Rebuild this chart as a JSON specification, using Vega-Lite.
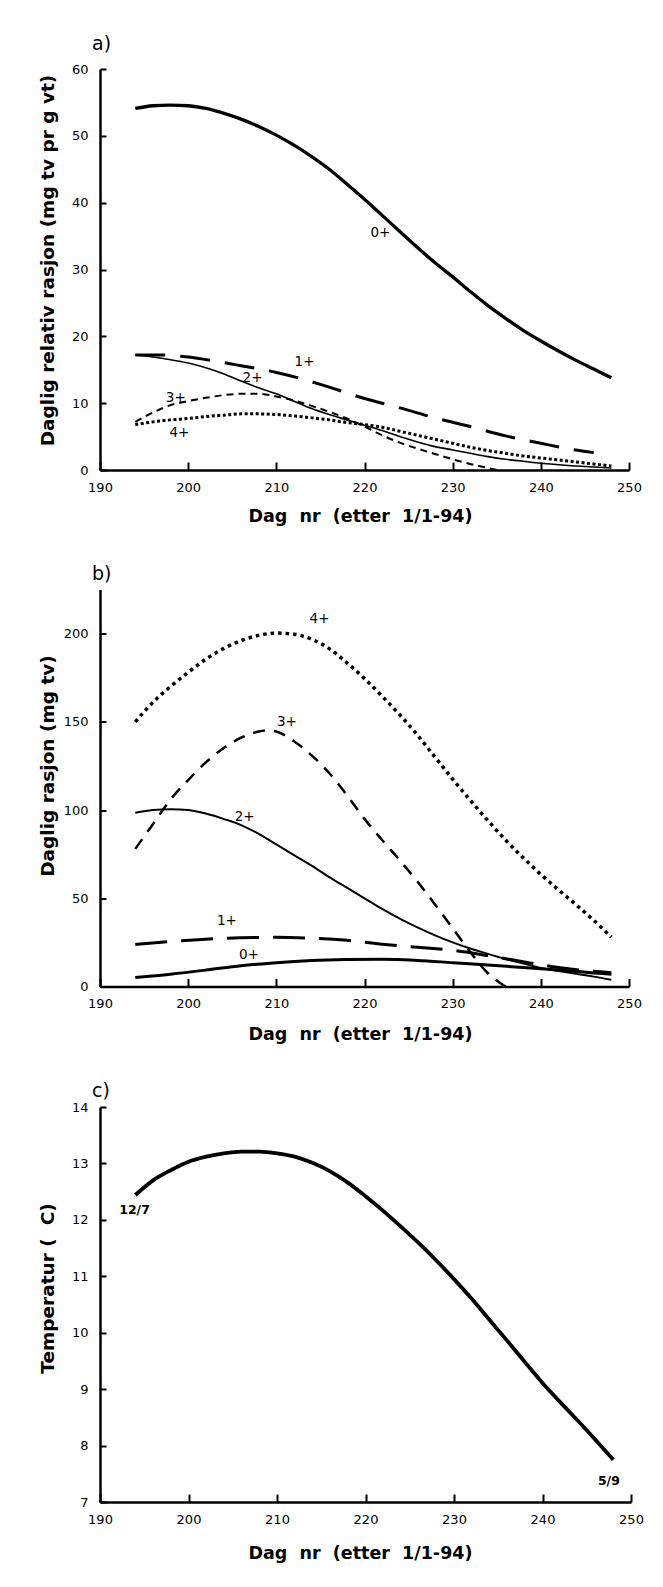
{
  "$schema": "https://vega.github.io/schema/vega-lite/v6.json",
  "background": "white",
  "padding": {"left": 37, "top": 35, "right": 10, "bottom": 5},
  "spacing": 39.5,
  "config": {
    "view": {"stroke": null},
    "axis": {"grid": false, "domainColor": "black", "domainWidth": 2.5, "tickColor": "black", "tickWidth": 2, "labelFont": "DejaVu Sans", "labelFontSize": 13, "labelColor": "black", "titleFont": "DejaVu Sans", "titleFontSize": 18.5, "titleFontWeight": "bold", "titleColor": "black", "labelFlush": false, "labelOverlap": false},
    "title": {"anchor": "start", "frame": "group", "font": "DejaVu Sans", "fontSize": 19, "fontWeight": "normal", "color": "black", "dx": -8},
    "text": {"font": "DejaVu Sans", "fontSize": 13.5, "color": "black", "align": "center", "baseline": "middle"}
  },
  "datasets": {
    "a": [
      {"s": "0+", "day": 194, "v": 54.1}, {"s": "0+", "day": 196, "v": 54.5}, {"s": "0+", "day": 198, "v": 54.6}, {"s": "0+", "day": 200, "v": 54.5}, {"s": "0+", "day": 202, "v": 54.1}, {"s": "0+", "day": 204, "v": 53.4}, {"s": "0+", "day": 206, "v": 52.5}, {"s": "0+", "day": 208, "v": 51.4}, {"s": "0+", "day": 210, "v": 50.1}, {"s": "0+", "day": 212, "v": 48.6}, {"s": "0+", "day": 214, "v": 46.9}, {"s": "0+", "day": 216, "v": 45.0}, {"s": "0+", "day": 218, "v": 42.8}, {"s": "0+", "day": 220, "v": 40.5}, {"s": "0+", "day": 222, "v": 38.1}, {"s": "0+", "day": 224, "v": 35.7}, {"s": "0+", "day": 226, "v": 33.3}, {"s": "0+", "day": 228, "v": 31.0}, {"s": "0+", "day": 230, "v": 28.9}, {"s": "0+", "day": 232, "v": 26.7}, {"s": "0+", "day": 234, "v": 24.6}, {"s": "0+", "day": 236, "v": 22.7}, {"s": "0+", "day": 238, "v": 20.9}, {"s": "0+", "day": 240, "v": 19.3}, {"s": "0+", "day": 242, "v": 17.8}, {"s": "0+", "day": 244, "v": 16.4}, {"s": "0+", "day": 246, "v": 15.1}, {"s": "0+", "day": 248, "v": 13.8},
      {"s": "1+", "day": 194, "v": 17.2}, {"s": "1+", "day": 197, "v": 17.2}, {"s": "1+", "day": 200, "v": 16.9}, {"s": "1+", "day": 203, "v": 16.3}, {"s": "1+", "day": 206, "v": 15.6}, {"s": "1+", "day": 210, "v": 14.6}, {"s": "1+", "day": 213, "v": 13.6}, {"s": "1+", "day": 216, "v": 12.4}, {"s": "1+", "day": 220, "v": 10.7}, {"s": "1+", "day": 224, "v": 9.3}, {"s": "1+", "day": 228, "v": 7.8}, {"s": "1+", "day": 232, "v": 6.5}, {"s": "1+", "day": 236, "v": 5.1}, {"s": "1+", "day": 240, "v": 4.0}, {"s": "1+", "day": 243, "v": 3.2}, {"s": "1+", "day": 246, "v": 2.6},
      {"s": "2+", "day": 194, "v": 17.2}, {"s": "2+", "day": 196, "v": 16.9}, {"s": "2+", "day": 198, "v": 16.5}, {"s": "2+", "day": 200, "v": 16.0}, {"s": "2+", "day": 202, "v": 15.3}, {"s": "2+", "day": 204, "v": 14.4}, {"s": "2+", "day": 206, "v": 13.3}, {"s": "2+", "day": 208, "v": 12.3}, {"s": "2+", "day": 210, "v": 11.4}, {"s": "2+", "day": 212, "v": 10.3}, {"s": "2+", "day": 214, "v": 9.2}, {"s": "2+", "day": 216, "v": 8.3}, {"s": "2+", "day": 218, "v": 7.5}, {"s": "2+", "day": 220, "v": 6.7}, {"s": "2+", "day": 222, "v": 5.9}, {"s": "2+", "day": 224, "v": 5.0}, {"s": "2+", "day": 226, "v": 4.2}, {"s": "2+", "day": 228, "v": 3.5}, {"s": "2+", "day": 230, "v": 3.0}, {"s": "2+", "day": 232, "v": 2.5}, {"s": "2+", "day": 234, "v": 2.0}, {"s": "2+", "day": 236, "v": 1.6}, {"s": "2+", "day": 238, "v": 1.3}, {"s": "2+", "day": 240, "v": 1.0}, {"s": "2+", "day": 244, "v": 0.6}, {"s": "2+", "day": 248, "v": 0.3},
      {"s": "3+", "day": 194, "v": 7.2}, {"s": "3+", "day": 196, "v": 8.6}, {"s": "3+", "day": 198, "v": 9.7}, {"s": "3+", "day": 200, "v": 10.3}, {"s": "3+", "day": 202, "v": 10.8}, {"s": "3+", "day": 204, "v": 11.2}, {"s": "3+", "day": 206, "v": 11.4}, {"s": "3+", "day": 208, "v": 11.4}, {"s": "3+", "day": 210, "v": 11.0}, {"s": "3+", "day": 212, "v": 10.4}, {"s": "3+", "day": 214, "v": 9.6}, {"s": "3+", "day": 216, "v": 8.7}, {"s": "3+", "day": 218, "v": 7.7}, {"s": "3+", "day": 220, "v": 6.5}, {"s": "3+", "day": 222, "v": 5.2}, {"s": "3+", "day": 224, "v": 4.1}, {"s": "3+", "day": 226, "v": 3.2}, {"s": "3+", "day": 228, "v": 2.4}, {"s": "3+", "day": 230, "v": 1.6}, {"s": "3+", "day": 232, "v": 0.9}, {"s": "3+", "day": 234, "v": 0.3}, {"s": "3+", "day": 235, "v": 0.0},
      {"s": "4+", "day": 194, "v": 6.8}, {"s": "4+", "day": 196, "v": 7.2}, {"s": "4+", "day": 198, "v": 7.5}, {"s": "4+", "day": 200, "v": 7.7}, {"s": "4+", "day": 202, "v": 8.0}, {"s": "4+", "day": 204, "v": 8.2}, {"s": "4+", "day": 206, "v": 8.4}, {"s": "4+", "day": 208, "v": 8.4}, {"s": "4+", "day": 210, "v": 8.3}, {"s": "4+", "day": 212, "v": 8.1}, {"s": "4+", "day": 214, "v": 7.8}, {"s": "4+", "day": 216, "v": 7.5}, {"s": "4+", "day": 218, "v": 7.1}, {"s": "4+", "day": 220, "v": 6.8}, {"s": "4+", "day": 222, "v": 6.4}, {"s": "4+", "day": 224, "v": 5.8}, {"s": "4+", "day": 226, "v": 5.2}, {"s": "4+", "day": 228, "v": 4.6}, {"s": "4+", "day": 230, "v": 4.0}, {"s": "4+", "day": 232, "v": 3.4}, {"s": "4+", "day": 234, "v": 2.9}, {"s": "4+", "day": 236, "v": 2.5}, {"s": "4+", "day": 238, "v": 2.1}, {"s": "4+", "day": 240, "v": 1.8}, {"s": "4+", "day": 242, "v": 1.5}, {"s": "4+", "day": 244, "v": 1.2}, {"s": "4+", "day": 246, "v": 0.9}, {"s": "4+", "day": 248, "v": 0.6}
    ],
    "aLabels": [
      {"t": "0+", "day": 221.8, "v": 35.4}, {"t": "1+", "day": 213.2, "v": 16.1}, {"t": "2+", "day": 207.3, "v": 13.8}, {"t": "3+", "day": 198.6, "v": 10.7}, {"t": "4+", "day": 199.0, "v": 5.6}
    ],
    "b": [
      {"s": "0+", "day": 194, "v": 5.1}, {"s": "0+", "day": 198, "v": 7.0}, {"s": "0+", "day": 202, "v": 9.3}, {"s": "0+", "day": 206, "v": 11.8}, {"s": "0+", "day": 210, "v": 13.5}, {"s": "0+", "day": 214, "v": 14.7}, {"s": "0+", "day": 218, "v": 15.3}, {"s": "0+", "day": 222, "v": 15.5}, {"s": "0+", "day": 226, "v": 14.8}, {"s": "0+", "day": 230, "v": 13.5}, {"s": "0+", "day": 234, "v": 12.2}, {"s": "0+", "day": 238, "v": 10.8}, {"s": "0+", "day": 242, "v": 9.3}, {"s": "0+", "day": 246, "v": 7.7}, {"s": "0+", "day": 248, "v": 6.9},
      {"s": "1+", "day": 194, "v": 23.8}, {"s": "1+", "day": 198, "v": 25.5}, {"s": "1+", "day": 202, "v": 26.8}, {"s": "1+", "day": 206, "v": 27.6}, {"s": "1+", "day": 210, "v": 27.9}, {"s": "1+", "day": 214, "v": 27.4}, {"s": "1+", "day": 218, "v": 26.2}, {"s": "1+", "day": 222, "v": 24.0}, {"s": "1+", "day": 226, "v": 22.2}, {"s": "1+", "day": 230, "v": 20.5}, {"s": "1+", "day": 234, "v": 17.5}, {"s": "1+", "day": 238, "v": 14.0}, {"s": "1+", "day": 242, "v": 10.8}, {"s": "1+", "day": 246, "v": 8.6}, {"s": "1+", "day": 248, "v": 7.8},
      {"s": "2+", "day": 194, "v": 98.5}, {"s": "2+", "day": 196, "v": 100.0}, {"s": "2+", "day": 198, "v": 100.5}, {"s": "2+", "day": 200, "v": 100.0}, {"s": "2+", "day": 202, "v": 98.0}, {"s": "2+", "day": 204, "v": 95.0}, {"s": "2+", "day": 206, "v": 91.5}, {"s": "2+", "day": 208, "v": 86.5}, {"s": "2+", "day": 210, "v": 80.5}, {"s": "2+", "day": 212, "v": 74.5}, {"s": "2+", "day": 214, "v": 68.5}, {"s": "2+", "day": 216, "v": 62.0}, {"s": "2+", "day": 218, "v": 56.0}, {"s": "2+", "day": 220, "v": 50.0}, {"s": "2+", "day": 222, "v": 44.0}, {"s": "2+", "day": 224, "v": 38.5}, {"s": "2+", "day": 226, "v": 33.5}, {"s": "2+", "day": 228, "v": 29.0}, {"s": "2+", "day": 230, "v": 25.0}, {"s": "2+", "day": 232, "v": 21.5}, {"s": "2+", "day": 234, "v": 18.5}, {"s": "2+", "day": 236, "v": 15.5}, {"s": "2+", "day": 238, "v": 13.0}, {"s": "2+", "day": 240, "v": 10.5}, {"s": "2+", "day": 242, "v": 8.8}, {"s": "2+", "day": 244, "v": 7.2}, {"s": "2+", "day": 246, "v": 5.6}, {"s": "2+", "day": 248, "v": 3.8},
      {"s": "3+", "day": 194, "v": 78}, {"s": "3+", "day": 196, "v": 92}, {"s": "3+", "day": 198, "v": 106}, {"s": "3+", "day": 200, "v": 117}, {"s": "3+", "day": 202, "v": 127}, {"s": "3+", "day": 204, "v": 135}, {"s": "3+", "day": 206, "v": 141}, {"s": "3+", "day": 208, "v": 144.5}, {"s": "3+", "day": 209, "v": 145.2}, {"s": "3+", "day": 210, "v": 144.5}, {"s": "3+", "day": 212, "v": 139}, {"s": "3+", "day": 214, "v": 131}, {"s": "3+", "day": 216, "v": 121}, {"s": "3+", "day": 218, "v": 108.5}, {"s": "3+", "day": 220, "v": 95}, {"s": "3+", "day": 222, "v": 83}, {"s": "3+", "day": 224, "v": 71.5}, {"s": "3+", "day": 226, "v": 59.5}, {"s": "3+", "day": 228, "v": 46.5}, {"s": "3+", "day": 230, "v": 33}, {"s": "3+", "day": 232, "v": 19.5}, {"s": "3+", "day": 234, "v": 7.5}, {"s": "3+", "day": 236, "v": 0},
      {"s": "4+", "day": 194, "v": 150}, {"s": "4+", "day": 196, "v": 161}, {"s": "4+", "day": 198, "v": 170}, {"s": "4+", "day": 200, "v": 178}, {"s": "4+", "day": 202, "v": 185.5}, {"s": "4+", "day": 204, "v": 191.5}, {"s": "4+", "day": 206, "v": 196}, {"s": "4+", "day": 208, "v": 199}, {"s": "4+", "day": 210, "v": 200.3}, {"s": "4+", "day": 212, "v": 199.7}, {"s": "4+", "day": 214, "v": 196.8}, {"s": "4+", "day": 216, "v": 191.5}, {"s": "4+", "day": 218, "v": 183.5}, {"s": "4+", "day": 220, "v": 174.5}, {"s": "4+", "day": 222, "v": 164.5}, {"s": "4+", "day": 224, "v": 154}, {"s": "4+", "day": 226, "v": 142.5}, {"s": "4+", "day": 228, "v": 130}, {"s": "4+", "day": 230, "v": 117.5}, {"s": "4+", "day": 232, "v": 105.5}, {"s": "4+", "day": 234, "v": 94}, {"s": "4+", "day": 236, "v": 83}, {"s": "4+", "day": 238, "v": 73}, {"s": "4+", "day": 240, "v": 63.5}, {"s": "4+", "day": 242, "v": 54.8}, {"s": "4+", "day": 244, "v": 46.3}, {"s": "4+", "day": 246, "v": 37.5}, {"s": "4+", "day": 248, "v": 28}
    ],
    "bLabels": [
      {"t": "4+", "day": 214.9, "v": 208}, {"t": "3+", "day": 211.2, "v": 150}, {"t": "2+", "day": 206.4, "v": 96}, {"t": "1+", "day": 204.4, "v": 37.2}, {"t": "0+", "day": 206.9, "v": 17.9}
    ],
    "c": [
      {"day": 194, "v": 12.44}, {"day": 196, "v": 12.7}, {"day": 198, "v": 12.88}, {"day": 200, "v": 13.03}, {"day": 202, "v": 13.12}, {"day": 204, "v": 13.18}, {"day": 206, "v": 13.21}, {"day": 208, "v": 13.21}, {"day": 210, "v": 13.18}, {"day": 212, "v": 13.12}, {"day": 214, "v": 13.01}, {"day": 216, "v": 12.86}, {"day": 218, "v": 12.66}, {"day": 220, "v": 12.42}, {"day": 222, "v": 12.16}, {"day": 224, "v": 11.88}, {"day": 226, "v": 11.59}, {"day": 228, "v": 11.28}, {"day": 230, "v": 10.95}, {"day": 232, "v": 10.6}, {"day": 234, "v": 10.23}, {"day": 236, "v": 9.86}, {"day": 238, "v": 9.48}, {"day": 240, "v": 9.11}, {"day": 242, "v": 8.77}, {"day": 244, "v": 8.44}, {"day": 246, "v": 8.1}, {"day": 248, "v": 7.75}
    ],
    "cLabels": [
      {"t": "12/7", "day": 193.9, "v": 12.17}, {"t": "5/9", "day": 247.5, "v": 7.38}
    ]
  },
  "vconcat": [
    {
      "width": 529, "height": 401,
      "title": {"text": "a)", "offset": 9},
      "encoding": {
        "x": {"field": "day", "type": "quantitative", "scale": {"domain": [190, 250], "nice": false, "zero": false},
              "axis": {"title": "Dag\u00a0 nr\u00a0 (etter\u00a0 1/1-94)", "values": [190, 200, 210, 220, 230, 240, 250], "tickSize": -8, "labelPadding": 19, "titleX": 260, "titleY": 46.5, "titleBaseline": "middle", "titleAlign": "center", "titleFontSize": 17.5}},
        "y": {"field": "v", "type": "quantitative", "scale": {"domain": [0, 60], "nice": false},
              "axis": {"title": "Daglig relativ rasjon (mg tv pr g vt)", "values": [0, 10, 20, 30, 40, 50, 60], "tickSize": -6, "labelPadding": 18, "titleX": -53, "titleY": 191, "titleBaseline": "middle", "titleAlign": "center", "titleAngle": 270}}
      },
      "layer": [
        {"data": {"name": "a"}, "transform": [{"filter": "datum.s === '0+'"}], "mark": {"type": "line", "color": "black", "strokeWidth": 3.3, "interpolate": "monotone"}},
        {"data": {"name": "a"}, "transform": [{"filter": "datum.s === '1+'"}], "mark": {"type": "line", "color": "black", "strokeWidth": 3, "strokeDash": [30, 15], "interpolate": "monotone"}},
        {"data": {"name": "a"}, "transform": [{"filter": "datum.s === '2+'"}], "mark": {"type": "line", "color": "black", "strokeWidth": 1.6, "interpolate": "monotone"}},
        {"data": {"name": "a"}, "transform": [{"filter": "datum.s === '3+'"}], "mark": {"type": "line", "color": "black", "strokeWidth": 2, "strokeDash": [7, 5], "interpolate": "monotone"}},
        {"data": {"name": "a"}, "transform": [{"filter": "datum.s === '4+'"}], "mark": {"type": "line", "color": "black", "strokeWidth": 3, "strokeDash": [3, 2.5], "interpolate": "monotone"}},
        {"data": {"name": "aLabels"}, "mark": {"type": "text"}, "encoding": {"text": {"field": "t"}}}
      ]
    },
    {
      "width": 529, "height": 397,
      "title": {"text": "b)", "offset": 5.5},
      "encoding": {
        "x": {"field": "day", "type": "quantitative", "scale": {"domain": [190, 250], "nice": false, "zero": false},
              "axis": {"title": "Dag\u00a0 nr\u00a0 (etter\u00a0 1/1-94)", "values": [190, 200, 210, 220, 230, 240, 250], "tickSize": -8, "labelPadding": 19, "titleX": 260, "titleY": 47.5, "titleBaseline": "middle", "titleAlign": "center", "titleFontSize": 17.5}},
        "y": {"field": "v", "type": "quantitative", "scale": {"domain": [0, 225], "nice": false},
              "axis": {"title": "Daglig rasjon (mg tv)", "values": [0, 50, 100, 150, 200], "tickSize": -6, "labelPadding": 18, "titleX": -53, "titleY": 176, "titleBaseline": "middle", "titleAlign": "center", "titleAngle": 270}}
      },
      "layer": [
        {"data": {"name": "b"}, "transform": [{"filter": "datum.s === '0+'"}], "mark": {"type": "line", "color": "black", "strokeWidth": 3, "interpolate": "monotone"}},
        {"data": {"name": "b"}, "transform": [{"filter": "datum.s === '1+'"}], "mark": {"type": "line", "color": "black", "strokeWidth": 3, "strokeDash": [32, 14], "interpolate": "monotone"}},
        {"data": {"name": "b"}, "transform": [{"filter": "datum.s === '2+'"}], "mark": {"type": "line", "color": "black", "strokeWidth": 2, "interpolate": "monotone"}},
        {"data": {"name": "b"}, "transform": [{"filter": "datum.s === '3+'"}], "mark": {"type": "line", "color": "black", "strokeWidth": 2.5, "strokeDash": [12, 9], "interpolate": "monotone"}},
        {"data": {"name": "b"}, "transform": [{"filter": "datum.s === '4+'"}], "mark": {"type": "line", "color": "black", "strokeWidth": 3.5, "strokeDash": [3.5, 4], "interpolate": "monotone"}},
        {"data": {"name": "bLabels"}, "mark": {"type": "text"}, "encoding": {"text": {"field": "t"}}}
      ]
    },
    {
      "width": 531, "height": 395,
      "title": {"text": "c)", "offset": 0},
      "encoding": {
        "x": {"field": "day", "type": "quantitative", "scale": {"domain": [190, 250], "nice": false, "zero": false},
              "axis": {"title": "Dag\u00a0 nr\u00a0 (etter\u00a0 1/1-94)", "values": [190, 200, 210, 220, 230, 240, 250], "tickSize": -8, "labelPadding": 19, "titleX": 260, "titleY": 51.5, "titleBaseline": "middle", "titleAlign": "center", "titleFontSize": 17.5}},
        "y": {"field": "v", "type": "quantitative", "scale": {"domain": [7, 14], "nice": false, "zero": false},
              "axis": {"title": "Temperatur ( \u00a0C)", "values": [7, 8, 9, 10, 11, 12, 13, 14], "tickSize": -6, "labelPadding": 18, "titleX": -53, "titleY": 181, "titleBaseline": "middle", "titleAlign": "center", "titleAngle": 270}}
      },
      "layer": [
        {"data": {"name": "c"}, "mark": {"type": "line", "color": "black", "strokeWidth": 3.8, "interpolate": "monotone"}},
        {"data": {"name": "cLabels"}, "mark": {"type": "text", "fontWeight": "bold", "fontSize": 12.5}, "encoding": {"text": {"field": "t"}}}
      ]
    }
  ]
}
